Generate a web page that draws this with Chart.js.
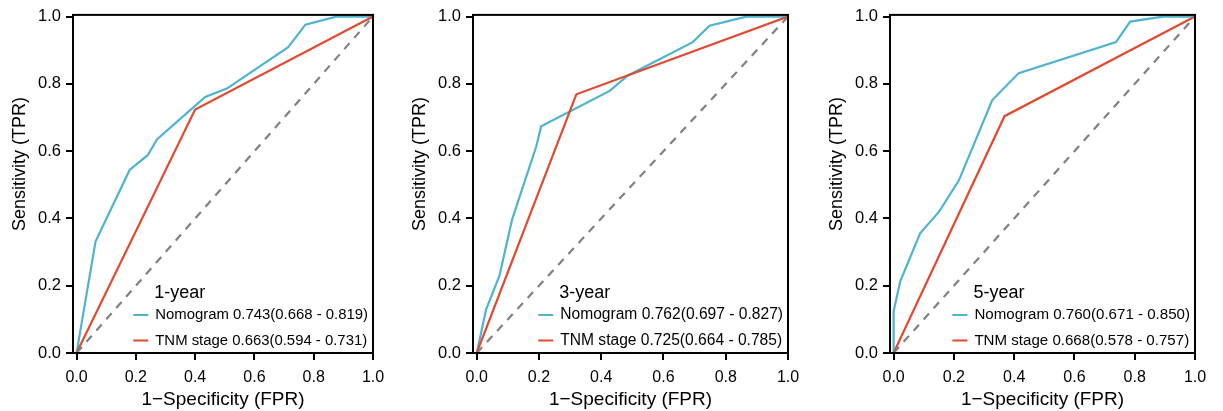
<!DOCTYPE html>
<html>
<head>
<meta charset="utf-8">
<script src="https://cdn.jsdelivr.net/npm/chart.js@4.4.1/dist/chart.umd.min.js"></script>
<style>
  html, body { margin: 0; padding: 0; background: #fff; }
  #wrap { position: relative; width: 1223px; height: 411px; overflow: hidden; }
  #wrap canvas { position: absolute; top: 0; }
</style>
</head>
<body>
<div id="wrap">
  <canvas id="roc1" width="400" height="411" style="left:0px"></canvas>
  <canvas id="roc3" width="410" height="411" style="left:400px"></canvas>
  <canvas id="roc5" width="406" height="411" style="left:817px"></canvas>
</div>
<script>
// tick values shared by both axes
const xTicks = [0, 0.2, 0.4, 0.6, 0.8, 1.0];
const yTicks = [0, 0.2, 0.4, 0.6, 0.8, 1.0];

const panelTitles = ['1-year', '3-year', '5-year'];
const nomLabels = [
    'Nomogram 0.743(0.668 - 0.819)',
    'Nomogram 0.762(0.697 - 0.827)',
    'Nomogram 0.760(0.671 - 0.850)'
];
const tnmLabels = [
    'TNM stage 0.663(0.594 - 0.731)',
    'TNM stage 0.725(0.664 - 0.785)',
    'TNM stage 0.668(0.578 - 0.757)'
];

// 1-year ROC
const nomFpr1 = [0, 0.064, 0.179, 0.240, 0.271, 0.434, 0.507, 0.714, 0.772, 0.876, 1];
const nomTpr1 = [0, 0.331, 0.544, 0.588, 0.635, 0.761, 0.786, 0.909, 0.976, 1, 1];
const tnmFpr1 = [0, 0.400, 1];
const tnmTpr1 = [0, 0.724, 1];

// 3-year ROC
const nomFpr3 = [0, 0.030, 0.073, 0.114, 0.191, 0.207, 0.427, 0.486, 0.694, 0.748, 0.866, 1];
const nomTpr3 = [0, 0.129, 0.230, 0.398, 0.613, 0.674, 0.779, 0.825, 0.924, 0.973, 1, 1];
const tnmFpr3 = [0, 0.320, 1];
const tnmTpr3 = [0, 0.769, 1];

// 5-year ROC
const nomFpr5 = [0, 0, 0.022, 0.088, 0.151, 0.217, 0.327, 0.415, 0.738, 0.785, 0.893, 1];
const nomTpr5 = [0, 0.124, 0.213, 0.356, 0.420, 0.514, 0.751, 0.832, 0.924, 0.985, 1, 1];
const tnmFpr5 = [0, 0.368, 1];
const tnmTpr5 = [0, 0.704, 1];

const refFpr = [0, 1];
const refTpr = [0, 1];

const BLUE = '#4DB3CF';
const RED = '#E04A30';
const FONT = "'Liberation Sans', Arial, sans-serif";

const panels = [
    { id: 'roc1', nomX: nomFpr1, nomY: nomTpr1, tnmX: tnmFpr1, tnmY: tnmTpr1, padRight: 27, legendSize: 14.9 },
    { id: 'roc3', nomX: nomFpr3, nomY: nomTpr3, tnmX: tnmFpr3, tnmY: tnmTpr3, padRight: 22, legendSize: 15.6 },
    { id: 'roc5', nomX: nomFpr5, nomY: nomTpr5, tnmX: tnmFpr5, tnmY: tnmTpr5, padRight: 28, legendSize: 15.1 }
];

function toPoints(xs, ys) {
    return xs.map((x, i) => ({ x: x, y: ys[i] }));
}

// black frame round the plot area
const boxPlugin = {
    id: 'box',
    afterDraw(chart) {
        const { ctx, chartArea: a } = chart;
        ctx.save();
        ctx.strokeStyle = '#000';
        ctx.lineWidth = 2;
        ctx.strokeRect(a.left, a.top, a.right - a.left, a.bottom - a.top);
        ctx.restore();
    }
};

// y title sits a bit above the middle of the axis in the original
const yTitlePlugin = {
    id: 'yTitle',
    afterDraw(chart) {
        const ctx = chart.ctx;
        ctx.save();
        ctx.translate(20, 164);
        ctx.rotate(-Math.PI / 2);
        ctx.font = '18px ' + FONT;
        ctx.fillStyle = '#000';
        ctx.textAlign = 'center';
        ctx.textBaseline = 'middle';
        ctx.fillText('Sensitivity (TPR)', 0, 0);
        ctx.restore();
    }
};

// legend in the bottom-right corner of the plot
const rocLegendPlugin = {
    id: 'rocLegend',
    afterDatasetsDraw(chart, args, opts) {
        const { ctx, chartArea: a } = chart;
        ctx.save();
        ctx.font = opts.size + 'px ' + FONT;
        const w = Math.max(...opts.rows.map(r => ctx.measureText(r.text).width));
        const textX = a.right - 5 - w;
        ctx.textBaseline = 'middle';
        ctx.textAlign = 'left';
        ctx.fillStyle = '#000';
        ctx.font = '18px ' + FONT;
        ctx.fillText(opts.title, textX - 1, a.bottom - 60);
        ctx.font = opts.size + 'px ' + FONT;
        opts.rows.forEach((r, i) => {
            const y = a.bottom - 38 + i * 25.5;
            ctx.strokeStyle = r.color;
            ctx.lineWidth = 2;
            ctx.beginPath();
            ctx.moveTo(textX - 22, y);
            ctx.lineTo(textX - 7, y);
            ctx.stroke();
            ctx.fillText(r.text, textX, y);
        });
        ctx.restore();
    }
};

panels.forEach((p, i) => {
    new Chart(document.getElementById(p.id), {
        type: 'line',
        data: {
            datasets: [
                {
                    label: 'reference',
                    data: toPoints(refFpr, refTpr),
                    borderColor: '#808080',
                    borderWidth: 2.2,
                    borderDash: [8, 7]
                },
                {
                    label: tnmLabels[i],
                    data: toPoints(p.tnmX, p.tnmY),
                    borderColor: RED,
                    borderWidth: 2.2
                },
                {
                    label: nomLabels[i],
                    data: toPoints(p.nomX, p.nomY),
                    borderColor: BLUE,
                    borderWidth: 2.2
                }
            ]
        },
        options: {
            responsive: false,
            animation: false,
            layout: { padding: { top: 14, right: p.padRight, left: 0, bottom: 0 } },
            elements: { point: { radius: 0 }, line: { tension: 0 } },
            plugins: {
                legend: { display: false },
                tooltip: { enabled: false },
                rocLegend: {
                    title: panelTitles[i],
                    size: p.legendSize,
                    rows: [
                        { text: nomLabels[i], color: BLUE },
                        { text: tnmLabels[i], color: RED }
                    ]
                }
            },
            scales: {
                x: {
                    type: 'linear',
                    min: -0.012,
                    max: 1,
                    afterBuildTicks: s => { s.ticks = xTicks.map(v => ({ value: v })); },
                    afterFit: s => { s.height = 58; },
                    grid: { drawOnChartArea: false, drawTicks: true, tickLength: 7, color: '#000', lineWidth: 2 },
                    border: { display: true, color: '#000', width: 2 },
                    ticks: {
                        padding: 8,
                        color: '#000',
                        font: { family: FONT, size: 16 },
                        maxRotation: 0,
                        callback: v => v.toFixed(1)
                    },
                    title: {
                        display: true,
                        text: '1\u2212Specificity (FPR)',
                        color: '#000',
                        font: { family: FONT, size: 19 },
                        padding: { top: 0, bottom: 0 }
                    }
                },
                y: {
                    type: 'linear',
                    min: 0,
                    max: 1.005,
                    afterBuildTicks: s => { s.ticks = yTicks.map(v => ({ value: v })); },
                    afterFit: s => { s.width = 73; },
                    grid: { drawOnChartArea: false, drawTicks: true, tickLength: 7, color: '#000', lineWidth: 2 },
                    border: { display: true, color: '#000', width: 2 },
                    ticks: {
                        padding: 5,
                        color: '#000',
                        font: { family: FONT, size: 16.5 },
                        callback: v => v.toFixed(1)
                    }
                }
            }
        },
        plugins: [boxPlugin, yTitlePlugin, rocLegendPlugin]
    });
});
</script>
</body>
</html>
